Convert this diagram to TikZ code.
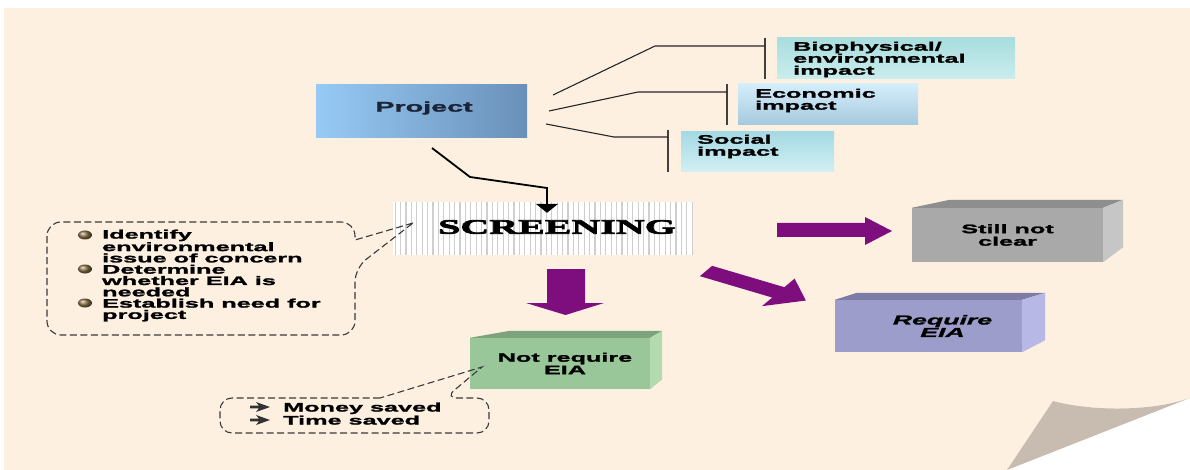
\documentclass[tikz,border=0pt]{standalone}
\usepackage{fontspec}
\setmainfont{Liberation Sans}
\newfontfamily\wsans[FakeStretch=2.05,FakeBold=1.8]{Liberation Sans}
\newfontfamily\wserif[FakeStretch=1.95,FakeBold=3.5]{Liberation Serif}
\usetikzlibrary{calc,arrows.meta}
\definecolor{cream}{HTML}{FDF0E1}
\definecolor{foldc}{HTML}{C8BBAF}
\definecolor{projL}{HTML}{96CAF5}
\definecolor{projR}{HTML}{6A90B8}
\definecolor{bioT}{HTML}{A8DDDE}
\definecolor{bioB}{HTML}{CBEDEE}
\definecolor{ecoT}{HTML}{D4EFFB}
\definecolor{ecoB}{HTML}{A6C8DD}
\definecolor{socT}{HTML}{A5DAE4}
\definecolor{socB}{HTML}{D2EFF4}
\definecolor{purp}{HTML}{7E0E7E}
\definecolor{grF}{HTML}{A9A9A9}
\definecolor{grT}{HTML}{8E8E8E}
\definecolor{grS}{HTML}{C6C6C6}
\definecolor{laF}{HTML}{9D9DCB}
\definecolor{laT}{HTML}{7C7CA6}
\definecolor{laS}{HTML}{B8B8E6}
\definecolor{geF}{HTML}{9AC79A}
\definecolor{geT}{HTML}{7DA37D}
\definecolor{geS}{HTML}{B4DAB0}
\definecolor{stripec}{HTML}{CFCFCF}
\definecolor{ballc}{HTML}{8A7248}
\definecolor{dashc}{HTML}{3A3A3A}
\definecolor{navy}{HTML}{1C2438}
\begin{document}
\begin{tikzpicture}[x=1pt,y=-1pt,
  txt/.style={font=\wsans\bfseries\fontsize{12.3}{12}\selectfont, inner sep=0pt, align=left},
  ctxt/.style={font=\wsans\bfseries\fontsize{12.3}{12.5}\selectfont, inner sep=0pt, align=center},
  impbox/.style={rectangle, inner sep=0pt, minimum height=41pt},
  conn/.style={draw=black!85, line width=1.1pt},
  bracket/.style={draw=black!75, line width=2pt},
  callout/.style={draw=dashc, line width=1.1pt, dash pattern=on 7pt off 3.5pt},
  face/.style={rectangle, inner sep=0pt},
  bulfill/.style={fill=black!80},
]
% paper
\fill[white] (0,0) rectangle (1190,470);
\fill[cream] (4,8) -- (1190,8) -- (1190,398) .. controls (1150,412) and (1090,411) .. (1053,401) -- (1007,470) -- (4,470) -- cycle;
\fill[foldc] (1053,401) .. controls (1090,411) and (1150,412) .. (1190,398) -- (1007,470) -- cycle;
\useasboundingbox (0,0) rectangle (1190,470);

% project
\node[rectangle, minimum width=211pt, minimum height=53pt, inner sep=0, left color=projL, right color=projR] (project) at (421.5,111.5) {};
\node[txt, font=\wsans\bfseries\fontsize{14}{14}\selectfont, text=navy] (projtext) at (424,108) {Project};

% impact boxes
\node[impbox, minimum width=238pt, top color=bioT, bottom color=bioB] (bio) at (896,58.5) {};
\node[impbox, minimum width=180pt, top color=ecoT, bottom color=ecoB] (eco) at (828,104.5) {};
\node[impbox, minimum width=153pt, minimum height=40pt, top color=socT, bottom color=socB] (soc) at (757.5,152) {};
\node[txt, anchor=west] (biotext) at (793,59.5) {Biophysical/\\environmental\\impact};
\node[txt, anchor=west] (ecotext) at (755,100.5) {Economic\\impact};
\node[txt, anchor=west] (soctext) at (697,146.5) {Social\\impact};

\draw[bracket] ($(bio.north west)+(-12,0)$) -- ($(bio.south west)+(-12,0)$);
\draw[bracket] ($(eco.north west)+(-11,0)$) -- ($(eco.south west)+(-11,0)$);
\draw[bracket] ($(soc.north west)+(-13,-2)$) -- ($(soc.south west)+(-13,0)$);

\coordinate (s1) at (553,95); \coordinate (k1) at (655,46);
\draw[conn] (s1) -- (k1) -- ($(bio.west |- k1)+(-12,0)$);
\coordinate (s2) at (549,111); \coordinate (k2) at (638,92);
\draw[conn] (s2) -- (k2) -- ($(eco.west |- k2)+(-11,0)$);
\coordinate (s3) at (546,124); \coordinate (k3) at (614,137);
\draw[conn] (s3) -- (k3) -- ($(soc.west |- k3)+(-13,0)$);

% screening
\node[rectangle, fill=white, minimum width=300pt, minimum height=53pt, inner sep=0] (screen) at (543,228.5) {};
\foreach \i in {0,...,55} \draw[draw=stripec, line width=1.3pt] (395.2+\i*5.4,202) -- (395.2+\i*5.4,255);
\node[font=\wserif\bfseries\fontsize{20.5}{20}\selectfont, inner sep=0] (scrtext) at (557,227) {SCREENING};

\coordinate (q0) at (432,148); \coordinate (q1) at (470,177); \coordinate (q2) at (547,188);
\draw[line width=1.8pt, -{Triangle[width=22pt,length=9pt]}] (q0) -- (q1) -- (q2) -- ($(q2 |- screen.north)+(0,11)$);

% purple arrows
\fill[purp] (547,269) -- (585,269) -- (585,303) -- (604,303) -- (565.5,315) -- (526,303) -- (547,303) -- cycle;
\fill[purp] (777,223) -- (865,223) -- (865,217) -- (892,231) -- (865,245) -- (865,237) -- (777,237) -- cycle;
\begin{scope}[shift={(706,271)}, xscale=2, rotate=-30.6]
\fill[purp] (0,-6) -- (42,-6) -- (42,-16) -- (58,0) -- (42,16) -- (42,6) -- (0,6) -- cycle;
\end{scope}

% result boxes
\node[face, fill=grF, minimum width=191pt, minimum height=54pt, ctxt] (still) at (1007.5,235) {Still not\\clear};
\fill[grT] (still.north west) -- ++(38,-8) -- ($(still.north east)+(20,-8)$) -- (still.north east) -- cycle;
\fill[grS] (still.north east) -- ++(20,-8) -- ($(still.south east)+(20,-15)$) -- (still.south east) -- cycle;

\node[face, fill=laF, minimum width=187pt, minimum height=52pt, ctxt, font=\wsans\bfseries\itshape\fontsize{13}{12.5}\selectfont] (req) at (928.5,326) {\hspace*{28pt}Require\\\hspace*{28pt}EIA};
\fill[laT] (req.north west) -- ++(22,-7) -- ($(req.north east)+(23,-7)$) -- (req.north east) -- cycle;
\fill[laS] (req.north east) -- ++(23,-7) -- ($(req.south east)+(23,-12)$) -- (req.south east) -- cycle;

\node[face, fill=geF, minimum width=180pt, minimum height=51pt, ctxt] (notreq) at (560,363.5) {\hspace*{10pt}Not require\\\hspace*{10pt}EIA};
\fill[geT] (notreq.north west) -- ++(40,-7) -- ($(notreq.north east)+(12,-7)$) -- (notreq.north east) -- cycle;
\fill[geS] (notreq.north east) -- ++(12,-7) -- ($(notreq.south east)+(12,-10)$) -- (notreq.south east) -- cycle;

% left callout
\coordinate (tipL) at (413,223);
\draw[callout] (tipL) -- (355,240) [rounded corners=14pt] -- (355,222) -- (47,222) -- (47,335) -- (355,335) -- (355,268) [sharp corners] -- cycle;
\foreach \yy in {235,269,303} \shade[ball color=ballc] (85,\yy) ellipse [x radius=7pt, y radius=4.5pt];
\node[txt, anchor=north west, font=\wsans\bfseries\fontsize{12.3}{11.3}\selectfont] (lefttext) at (102,229.5) {Identify\\environmental\\issue of concern\\Determine\\whether EIA is\\needed\\Establish need for\\project};

% bottom callout
\coordinate (tipB) at (482,367);
\draw[callout, rounded corners=12pt] (380,398) -- (220,398) -- (220,433) -- (489,433) -- (489,398) -- (445,398) [sharp corners] -- (tipB) -- cycle;
\foreach \yy in {407,420}
  \fill[bulfill] (250,\yy-1.3) -- (259,\yy-1.3) -- (256,\yy-5) -- (270,\yy) -- (256,\yy+5) -- (259,\yy+1.3) -- (250,\yy+1.3) -- cycle;
\node[txt, anchor=base west] (money) at (283,411.5) {Money saved};
\node[txt, anchor=base west] (time) at (283,424.5) {Time saved};
\end{tikzpicture}
\end{document}
